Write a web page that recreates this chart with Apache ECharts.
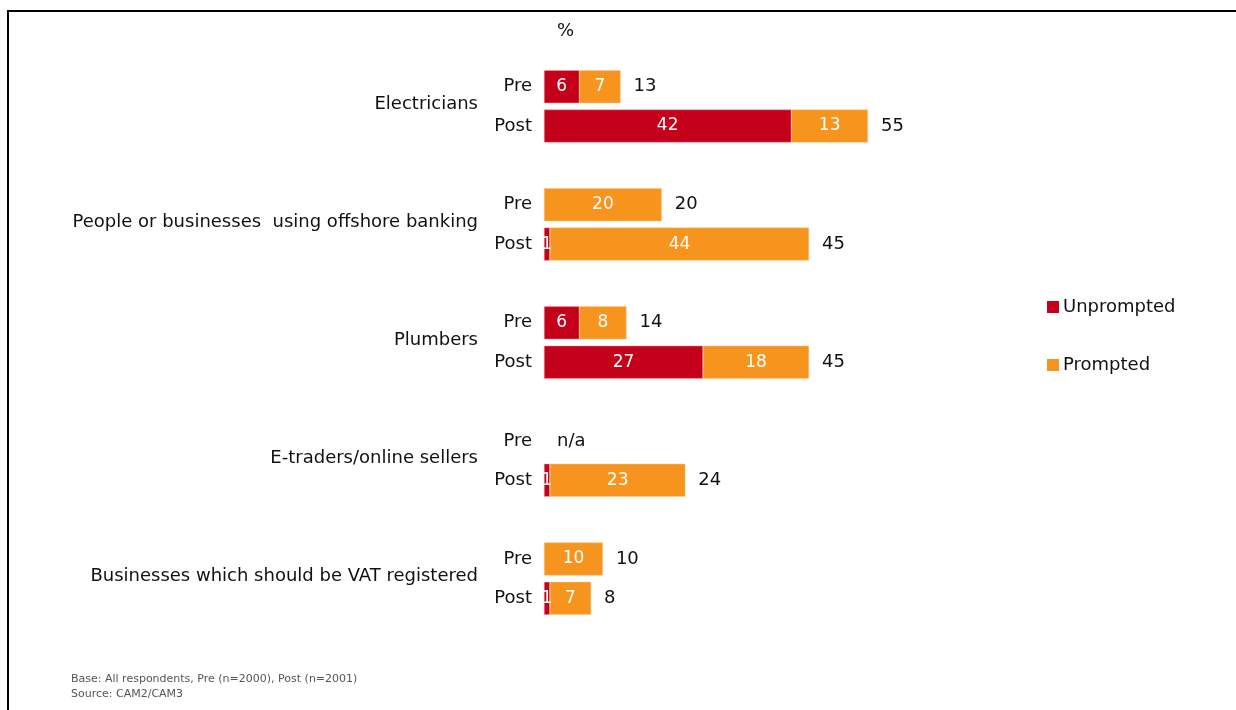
<!DOCTYPE html>
<html>
<head>
<meta charset="utf-8">
<title>Awareness of targeted groups</title>
<script src="https://cdn.jsdelivr.net/npm/echarts@6/dist/echarts.min.js"></script>
<style>
  html, body { margin: 0; padding: 0; background: #fff; }
  #chart { width: 1236px; height: 710px; }
</style>
</head>
<body>
<div id="chart"></div>
<script>
// Groups and the two survey waves shown for each
const groups = [
  'Electricians',
  'People or businesses  using offshore banking',
  'Plumbers',
  'E-traders/online sellers',
  'Businesses which should be VAT registered'
];
const waves = ['Pre', 'Post'];

// % aware, per group: [Pre, Post]  (null = not asked / no value)
const unprompted = [[6, 42], [null, 1], [6, 27], [null, 1], [null, 1]];
const prompted   = [[7, 13], [20, 44], [8, 18], [null, 23], [10, 7]];
const totals     = [[13, 55], [20, 45], [14, 45], [null, 24], [10, 8]];

const seriesNames = ['Unprompted', 'Prompted'];
const colors = ['#C5001A', '#F7941E'];
const notAskedText = 'n/a';
const footnote = 'Base: All respondents, Pre (n=2000), Post (n=2001)\nSource: CAM2/CAM3';

const FONT = 'DejaVu Sans';
const TEXT_SIZE = 18;

// Build row list: Pre, Post, then a spacer row between groups
const rows = [];
const rowUnp = [], rowPro = [], rowTot = [];
groups.forEach((g, gi) => {
  waves.forEach((w, wi) => {
    rows.push(w);
    rowUnp.push(unprompted[gi][wi]);
    rowPro.push(prompted[gi][wi]);
    const t = totals[gi][wi];
    rowTot.push(t === null
      ? { value: 0, label: { formatter: notAskedText } }
      : t);
  });
  if (gi < groups.length - 1) {
    rows.push('');
    rowUnp.push(null); rowPro.push(null); rowTot.push(null);
  }
});

// Group label positions on the secondary value axis (between Pre and Post rows)
const groupPos = groups.map((g, gi) => gi * 3 + 0.45);

const chart = echarts.init(document.getElementById('chart'), null, { renderer: 'canvas' });

const insideLabel = {
  show: true,
  position: 'inside',
  color: '#fff',
  fontFamily: FONT,
  fontSize: 17,
  formatter: p => (p.value == null ? '' : p.value)
};

chart.setOption({
  animation: false,
  backgroundColor: '#fff',
  title: [
    { text: '%', left: 552, top: 17, textStyle: { fontFamily: FONT, fontSize: TEXT_SIZE, fontWeight: 'normal', color: '#111' } },
    { text: footnote, left: 66, top: 667, textStyle: { fontFamily: FONT, fontSize: 11, fontWeight: 'normal', color: '#555', lineHeight: 15 } }
  ],
  legend: {
    data: seriesNames,
    orient: 'vertical',
    left: 1042,
    top: 293,
    itemWidth: 12,
    itemHeight: 12,
    itemGap: 40,
    icon: 'rect',
    itemStyle: { borderWidth: 0 },
    textStyle: { fontFamily: FONT, fontSize: TEXT_SIZE, color: '#111', padding: [0, 0, 0, -1] }
  },
  grid: { left: 544, top: 67, width: 589, height: 551, containLabel: false },
  xAxis: {
    type: 'value', min: 0, max: 100, show: false
  },
  yAxis: [
    {
      type: 'category',
      data: rows,
      inverse: true,
      axisLine: { show: false },
      axisTick: { show: false },
      axisLabel: { margin: 12, fontFamily: FONT, fontSize: TEXT_SIZE, color: '#111' }
    },
    {
      type: 'value',
      min: -0.5,
      max: rows.length - 0.5,
      inverse: true,
      position: 'left',
      splitLine: { show: false },
      axisLine: { show: false },
      axisTick: { show: false },
      axisLabel: {
        margin: 66,
        customValues: groupPos,
        fontFamily: FONT,
        fontSize: TEXT_SIZE,
        color: '#111',
        formatter: v => groups[Math.round((v - 0.45) / 3)] || ''
      }
    }
  ],
  series: [
    {
      name: seriesNames[0], type: 'bar', stack: 'aware', barWidth: 33,
      data: rowUnp,
      itemStyle: { color: colors[0], borderColor: '#F2A0A8', borderWidth: 0.5 },
      label: insideLabel
    },
    {
      name: seriesNames[1], type: 'bar', stack: 'aware', barWidth: 33,
      data: rowPro,
      itemStyle: { color: colors[1], borderColor: '#FBC98C', borderWidth: 0.5 },
      label: insideLabel
    },
    {
      name: 'Total', type: 'bar', barWidth: 33, barGap: '-100%',
      data: rowTot,
      itemStyle: { color: 'transparent' },
      z: 1,
      label: {
        show: true, position: 'right', distance: 13,
        fontFamily: FONT, fontSize: TEXT_SIZE, color: '#111'
      }
    }
  ],
  graphic: [
    {
      type: 'polyline',
      shape: { points: [[8, 710], [8, 11], [1236, 11]] },
      style: { stroke: '#000', lineWidth: 2, fill: null },
      silent: true
    }
  ]
});
</script>
</body>
</html>
